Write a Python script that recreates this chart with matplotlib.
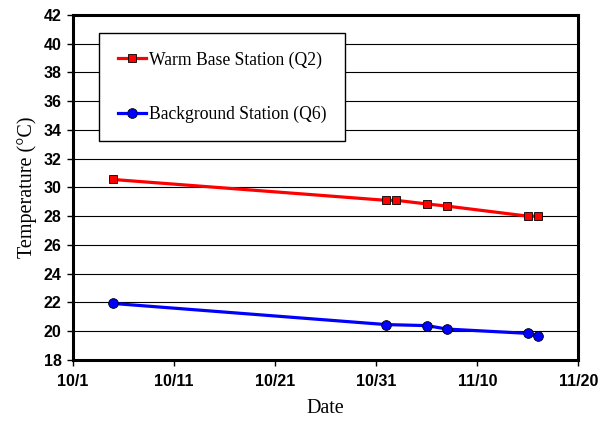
"""Temperatura: estación base cálida vs estación de fondo."""

from datetime import datetime, timedelta

import matplotlib

matplotlib.use("Agg")
import matplotlib.dates as mdates
import matplotlib.pyplot as plt
from matplotlib.ticker import FixedLocator, FuncFormatter, MultipleLocator

YEAR = 2005

q2_dates = ["10/5", "11/1", "11/2", "11/5", "11/7", "11/15", "11/16"]
q2_temp = [30.55, 29.1, 29.1, 28.85, 28.7, 28.0, 28.0]

q6_dates = ["10/5", "11/1", "11/5", "11/7", "11/15", "11/16"]
q6_temp = [21.93, 20.46, 20.39, 20.15, 19.85, 19.68]

x_start, x_end = "10/1", "11/20"
y_ticks = list(range(18, 43, 2))


def to_dt(s):
    m, d = s.split("/")
    return datetime(YEAR, int(m), int(d))


serif = ["Liberation Serif", "DejaVu Serif"]
tick_font = {"family": "Liberation Sans", "weight": "bold", "size": 11.5}

fig = plt.figure(figsize=(6.07, 4.24), dpi=100)
ax = fig.add_axes([0.12, 0.151, 0.833, 0.814])

ax.plot([to_dt(s) for s in q2_dates], q2_temp, color="#ff0000", lw=2.3,
        marker="s", ms=6.2, mfc="#ff0000", mec="black", mew=0.6,
        label="Warm Base Station (Q2)", zorder=3)
ax.plot([to_dt(s) for s in q6_dates], q6_temp, color="#0000ff", lw=2.3,
        marker="o", ms=7, mfc="#0000ff", mec="black", mew=0.6,
        label="Background Station (Q6)", zorder=3)

ax.set_xlim(to_dt(x_start), to_dt(x_end))
ax.xaxis.set_major_locator(
    FixedLocator([mdates.date2num(to_dt(x_start) + timedelta(days=10 * i)) for i in range(6)])
)
ax.xaxis.set_major_formatter(
    FuncFormatter(lambda v, _: f"{mdates.num2date(v).month}/{mdates.num2date(v).day}")
)
ax.set_ylim(y_ticks[0], y_ticks[-1])
ax.yaxis.set_major_locator(MultipleLocator(2))

ax.grid(True, axis="y", color="black", lw=0.8)
ax.set_axisbelow(True)
for sp in ax.spines.values():
    sp.set_linewidth(2.2)

ax.tick_params(direction="out", length=4, width=1)
for lab in ax.get_xticklabels() + ax.get_yticklabels():
    lab.set_fontproperties(tick_font)
ax.tick_params(axis="x", pad=6)
ax.tick_params(axis="y", pad=4)

ax.set_xlabel("Date", family=serif, fontsize=14.5, labelpad=7)
ax.set_ylabel("Temperature (°C)", family=serif, fontsize=14.5, labelpad=5)

leg = ax.legend(loc="upper left", bbox_to_anchor=(0.052, 0.948), borderaxespad=0,
                prop={"family": serif, "size": 12.7}, fancybox=False, framealpha=1,
                edgecolor="black", borderpad=1.05, labelspacing=2.1,
                handlelength=1.6, handletextpad=0.2)
leg.get_frame().set_linewidth(1.0)

fig.savefig("out.png", dpi=100)
